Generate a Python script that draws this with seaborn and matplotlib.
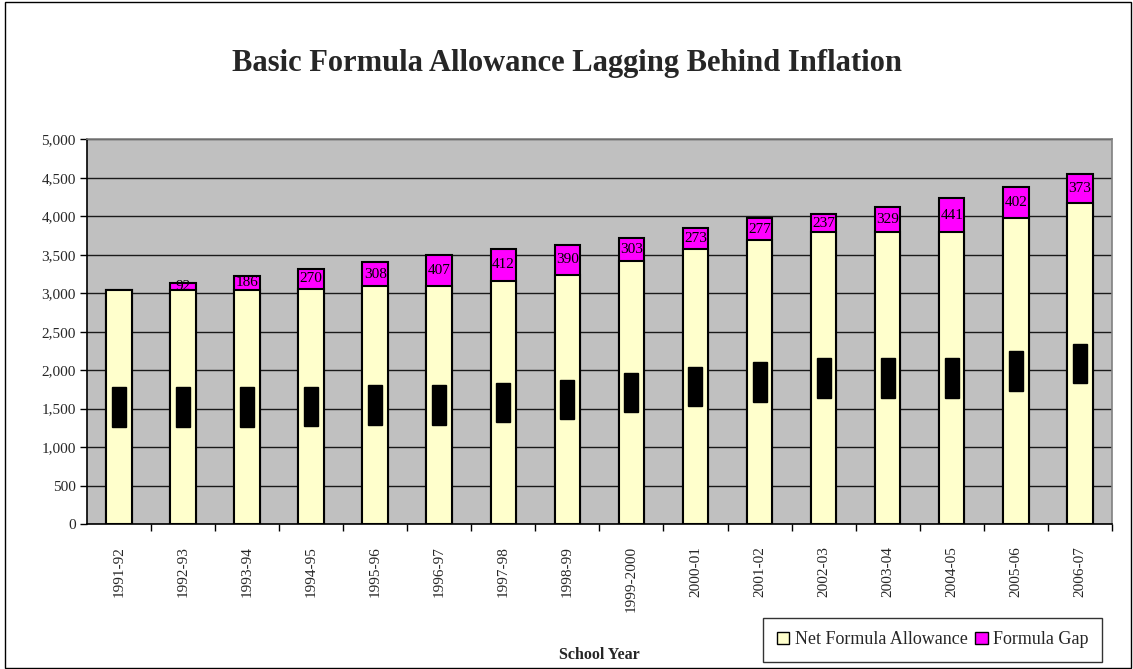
import matplotlib
matplotlib.use("Agg")
import numpy as np
import pandas as pd
import seaborn as sns
from matplotlib import pyplot as plt
from matplotlib.patches import Patch, Rectangle
from matplotlib.ticker import FuncFormatter, MultipleLocator

years = ["1991-92", "1992-93", "1993-94", "1994-95", "1995-96", "1996-97", "1997-98", "1998-99",
         "1999-2000", "2000-01", "2001-02", "2002-03", "2003-04", "2004-05", "2005-06", "2006-07"]
net_allowance = [3042, 3042, 3042, 3052, 3094, 3094, 3163, 3242,
                 3420, 3573, 3697, 3795, 3795, 3795, 3975, 4174]
formula_gap = [0, 92, 186, 270, 308, 407, 412, 390,
               303, 273, 277, 237, 329, 441, 402, 373]

df = pd.DataFrame({"year": years, "net": net_allowance, "gap": formula_gap})
df["total"] = df["net"] + df["gap"]

sns.set_style("white")
plt.rcParams["font.family"] = ["Liberation Serif", "DejaVu Serif"]

fig = plt.figure(figsize=(11.33, 6.69), dpi=100)
ax = fig.add_axes([0.0768, 0.2167, 0.9045, 0.5748])
ax.set_facecolor("#C0C0C0")

# stacked bars: draw total in magenta then net allowance on top of it
sns.barplot(data=df, x="year", y="total", color="#FF00FF", width=0.4,
            edgecolor="black", linewidth=1.5, saturation=1, ax=ax, zorder=3)
sns.barplot(data=df, x="year", y="net", color="#FFFFCC", width=0.4,
            edgecolor="black", linewidth=1.5, saturation=1, ax=ax, zorder=3)

ax.set_ylim(0, 5000)
ax.set_xlim(-0.5, len(years) - 0.5)
ax.yaxis.set_major_locator(MultipleLocator(500))
ax.yaxis.set_major_formatter(FuncFormatter(lambda v, p: f"{int(v):,}"))
ax.grid(axis="y", color="#1a1a1a", linewidth=1, zorder=0)
ax.set_axisbelow(True)

for i, row in df.iterrows():
    if row["gap"] > 0:
        ax.text(i, row["net"] + row["gap"] / 2, f"{row['gap']:,}", ha="center", va="center",
                fontsize=11, color="black", zorder=5)
    # net labels show up as solid black blocks in the original
    ax.text(i, row["net"] / 2, f"{row['net']:,}", ha="center", va="center", rotation=90,
            fontsize=10, family="DejaVu Sans", color="black", zorder=5,
            bbox=dict(boxstyle="square,pad=0", facecolor="black", edgecolor="black"))

ax.set_xticks(range(len(years)))
ax.set_xticklabels(years, rotation=90, fontsize=11)
ax.set_xticks(np.arange(0.5, len(years), 1), minor=True)
ax.tick_params(axis="x", which="major", length=0, pad=16)
ax.tick_params(axis="x", which="minor", length=5, width=1, color="black", direction="out")
ax.tick_params(axis="y", length=5, width=1, color="black", direction="out", labelsize=11, pad=3)
ax.tick_params(bottom=True, left=True, which="both")

ax.set_xlabel("School Year", fontsize=11.5, fontweight="bold", labelpad=25)
ax.set_ylabel("")

for side in ["left", "bottom"]:
    ax.spines[side].set_color("black")
    ax.spines[side].set_linewidth(1.2)
for side in ["top", "right"]:
    ax.spines[side].set_visible(True)
    ax.spines[side].set_color("#808080")
    ax.spines[side].set_linewidth(1.2)

fig.text(0.5, 0.905, "Basic Formula Allowance Lagging Behind Inflation", ha="center", va="center",
         fontsize=22, fontweight="bold")

handles = [Patch(facecolor="#FFFFCC", edgecolor="black"), Patch(facecolor="#FF00FF", edgecolor="black")]
leg = fig.legend(handles, ["Net Formula Allowance", "Formula Gap"], ncol=2, loc="lower right",
                 bbox_to_anchor=(1102 / 1133, 1 - 662 / 669), fontsize=13, frameon=True,
                 fancybox=False, handlelength=0.7, handleheight=0.7, handletextpad=0.3,
                 columnspacing=0.4, borderpad=0.75, borderaxespad=0)
leg.get_frame().set_edgecolor("black")
leg.get_frame().set_linewidth(1)

fig.patches.append(Rectangle((5 / 1133, 0.002), 1 - 7 / 1133, 0.995, transform=fig.transFigure,
                             fill=False, edgecolor="black", linewidth=1))

fig.savefig("out.png", dpi=100)
